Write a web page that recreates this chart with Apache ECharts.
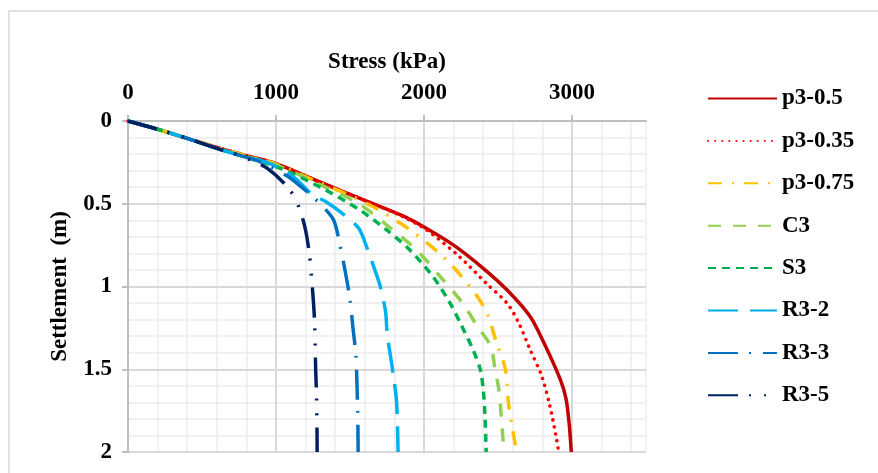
<!DOCTYPE html>
<html>
<head>
<meta charset="utf-8">
<title>Stress - Settlement</title>
<script src="https://cdn.jsdelivr.net/npm/echarts@6/dist/echarts.min.js"></script>
<style>
  html, body { margin: 0; padding: 0; background: #fff; }
  #chart { width: 878px; height: 473px; }
</style>
</head>
<body>
<div id="chart"></div>
<script>
// axis ranges / ticks
var stressMax = 3500, stressStep = 1000, stressMinor = 200;
var settleMax = 2, settleStep = 0.5, settleMinor = 0.1;

// series names, in legend order
var names = ['p3-0.5', 'p3-0.35', 'p3-0.75', 'C3', 'S3', 'R3-2', 'R3-3', 'R3-5'];

// [stress kPa, settlement m]
var p3_05 = [[0,0],[200,0.05],[400,0.105],[600,0.16],[800,0.21],[1000,0.258],[1300,0.37],[1600,0.48],[1850,0.57],[2000,0.64],[2200,0.75],[2400,0.89],[2560,1.02],[2716,1.18],[2810,1.34],[2920,1.56],[2960,1.68],[2982,1.84],[2995,2.0]];
var p3_035 = [[0,0],[200,0.05],[400,0.105],[600,0.16],[800,0.21],[1000,0.258],[1300,0.37],[1600,0.48],[1850,0.575],[2020,0.66],[2240,0.82],[2420,0.98],[2560,1.1],[2640,1.22],[2716,1.38],[2795,1.54],[2850,1.72],[2895,1.92],[2910,2.0]];
var p3_075 = [[0,0],[200,0.05],[400,0.105],[600,0.16],[800,0.21],[1000,0.26],[1300,0.375],[1500,0.45],[1700,0.54],[1900,0.655],[2130,0.82],[2310,1.0],[2420,1.15],[2490,1.34],[2550,1.5],[2570,1.7],[2595,1.84],[2625,2.0]];
var c3 = [[0,0],[200,0.05],[400,0.105],[600,0.165],[800,0.215],[1000,0.265],[1300,0.385],[1560,0.5],[1750,0.63],[1950,0.78],[2110,0.94],[2260,1.1],[2360,1.24],[2450,1.36],[2480,1.5],[2505,1.62],[2525,1.82],[2540,2.0]];
var s3 = [[0,0],[200,0.05],[400,0.105],[600,0.165],[800,0.22],[1000,0.275],[1300,0.4],[1570,0.54],[1750,0.66],[1905,0.78],[2060,0.94],[2176,1.1],[2250,1.23],[2330,1.38],[2380,1.5],[2400,1.62],[2412,1.78],[2420,2.0]];
var r3_2 = [[0,0],[200,0.05],[400,0.105],[600,0.165],[800,0.22],[940,0.25],[1120,0.34],[1240,0.44],[1340,0.49],[1450,0.56],[1560,0.65],[1620,0.78],[1660,0.88],[1705,1.0],[1740,1.15],[1748,1.25],[1752,1.3],[1770,1.4],[1795,1.55],[1815,1.7],[1825,2.0]];
var r3_3 = [[0,0],[200,0.05],[400,0.105],[600,0.165],[800,0.22],[890,0.245],[1070,0.33],[1160,0.39],[1240,0.45],[1320,0.52],[1390,0.6],[1430,0.74],[1470,0.92],[1500,1.08],[1520,1.25],[1540,1.42],[1552,1.77],[1555,2.0]];
var r3_5 = [[0,0],[200,0.05],[400,0.105],[600,0.165],[760,0.21],[850,0.245],[940,0.285],[1070,0.39],[1130,0.47],[1170,0.56],[1200,0.66],[1225,0.8],[1245,1.0],[1260,1.2],[1268,1.5],[1275,1.7],[1278,2.0]];

var allData = [p3_05, p3_035, p3_075, c3, s3, r3_2, r3_3, r3_5];

// excel-like line looks
var colors = ['#C00000', '#FF0000', '#FFC000', '#92D050', '#00B050', '#00B0F0', '#0070C0', '#002060'];
var dashes = [
  'solid',
  [0.1, 7],
  [14, 10, 2, 10],
  [13, 12],
  [8, 6],
  [30, 12],
  [30, 11, 2, 12],
  [30, 11, 2, 13, 2, 12]
];

var font = '"Liberation Serif", "Times New Roman", serif';
var txt = { fontFamily: font, fontWeight: 'bold', fontSize: 23, color: '#000' };

var series = names.map(function (n, i) {
  return {
    name: n,
    type: 'line',
    xAxisIndex: 1,
    yAxisIndex: 1,
    data: allData[i],
    symbol: 'none',
    smooth: 0.3,
    lineStyle: {
      color: colors[i],
      width: 3.5,
      type: dashes[i],
      cap: i == 1 ? 'round' : 'butt'
    },
    itemStyle: { color: colors[i] }
  };
});

var chart = echarts.init(document.getElementById('chart'));
chart.setOption({
  animation: false,
  textStyle: { fontFamily: font },
  graphic: [{
    type: 'rect',
    shape: { x: 9, y: 11, width: 1000, height: 1000 },
    style: { fill: 'none', stroke: '#D9D9D9', lineWidth: 1.5 },
    z: -10
  }],
  grid: { left: 128, right: 232, top: 121, bottom: 21, containLabel: false },
  legend: {
    orient: 'vertical',
    left: 702,
    top: 82,
    itemWidth: 69,
    itemHeight: 14,
    itemGap: 19.4,
    data: names,
    itemStyle: { opacity: 0 },
    textStyle: txt
  },
  xAxis: [{
    // minor grid
    type: 'value', position: 'bottom', min: 0, max: stressMax, interval: stressMinor,
    axisLine: { show: false }, axisTick: { show: false }, axisLabel: { show: false },
    splitLine: { show: true, lineStyle: { color: '#EDEDED', width: 1.5 } },
    z: 0
  }, {
    type: 'value', position: 'top', min: 0, max: stressMax, interval: stressStep,
    name: 'Stress (kPa)', nameLocation: 'middle', nameGap: 47,
    nameTextStyle: txt,
    axisLine: { show: true, onZero: false, lineStyle: { color: '#BFBFBF', width: 2 } },
    axisTick: { show: true, length: 6, lineStyle: { color: '#BFBFBF', width: 2 } },
    axisLabel: Object.assign({ margin: 16, showMaxLabel: false, formatter: function (v) { return String(v); } }, txt),
    splitLine: { show: true, showMaxLine: false, lineStyle: { color: '#D9D9D9', width: 2 } },
    z: 1
  }],
  yAxis: [{
    type: 'value', position: 'right', inverse: true, min: 0, max: settleMax, interval: settleMinor,
    axisLine: { show: false }, axisTick: { show: false }, axisLabel: { show: false },
    splitLine: { show: true, lineStyle: { color: '#EDEDED', width: 1.5 } },
    z: 0
  }, {
    type: 'value', position: 'left', inverse: true, min: 0, max: settleMax, interval: settleStep,
    name: 'Settlement  (m)', nameLocation: 'middle', nameGap: 56, nameRotate: 90,
    nameTextStyle: txt,
    axisLine: { show: true, onZero: false, lineStyle: { color: '#BFBFBF', width: 2 } },
    axisTick: { show: true, length: 6, lineStyle: { color: '#BFBFBF', width: 2 } },
    axisLabel: Object.assign({ margin: 16 }, txt),
    splitLine: { show: true, lineStyle: { color: '#D9D9D9', width: 2 } },
    z: 1
  }],
  series: series
});
</script>
</body>
</html>
